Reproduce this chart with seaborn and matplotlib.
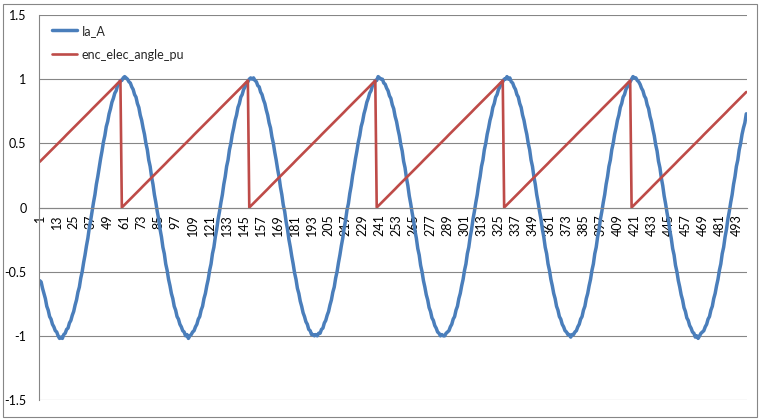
import pandas as pd
import seaborn as sns
import matplotlib.pyplot as plt
from matplotlib.patches import Rectangle

# Ia_A, one list per electrical period
ia_c0 = [-0.57, -0.58, -0.63, -0.67, -0.71, -0.77, -0.80, -0.85, -0.87, -0.91,
         -0.93, -0.96, -0.97, -1.00, -1.02, -1.01, -1.02, -0.99, -0.98, -0.95,
         -0.94, -0.90, -0.88, -0.84, -0.81, -0.76, -0.72, -0.66, -0.62, -0.55,
         -0.50, -0.43, -0.37, -0.30, -0.24, -0.16, -0.10, -0.03, 0.04, 0.10,
         0.18, 0.24, 0.31, 0.38, 0.44, 0.51, 0.56, 0.63, 0.67, 0.73,
         0.77, 0.82, 0.85, 0.89, 0.91, 0.95, 0.96, 0.99, 0.99, 1.01]
ia_c1 = [1.02, 1.01, 1.00, 0.98, 0.97, 0.94, 0.92, 0.88, 0.86, 0.81,
         0.78, 0.72, 0.68, 0.62, 0.57, 0.50, 0.45, 0.37, 0.32, 0.24,
         0.18, 0.10, 0.04, -0.03, -0.09, -0.17, -0.23, -0.31, -0.36, -0.44,
         -0.49, -0.56, -0.61, -0.67, -0.71, -0.77, -0.80, -0.85, -0.87, -0.91,
         -0.93, -0.96, -0.97, -1.00, -0.99, -1.02, -1.00, -0.99, -0.97, -0.96,
         -0.93, -0.91, -0.87, -0.85, -0.80, -0.77, -0.71, -0.67, -0.61, -0.56,
         -0.49, -0.44, -0.36, -0.31, -0.23, -0.17, -0.09, -0.03, 0.04, 0.10,
         0.18, 0.24, 0.32, 0.37, 0.45, 0.50, 0.57, 0.62, 0.68, 0.72,
         0.78, 0.81, 0.86, 0.88, 0.92, 0.94, 0.97, 0.98, 1.00, 1.01]
ia_c2 = [1.00, 1.01, 0.99, 0.98, 0.95, 0.94, 0.90, 0.88, 0.84, 0.81,
         0.76, 0.72, 0.66, 0.62, 0.55, 0.50, 0.43, 0.37, 0.30, 0.24,
         0.16, 0.10, 0.02, -0.03, -0.11, -0.17, -0.25, -0.31, -0.38, -0.44,
         -0.51, -0.56, -0.63, -0.67, -0.73, -0.77, -0.82, -0.85, -0.89, -0.91,
         -0.95, -0.96, -0.99, -0.99, -1.00, -0.99, -1.00, -0.98, -0.98, -0.95,
         -0.94, -0.90, -0.88, -0.84, -0.81, -0.76, -0.72, -0.66, -0.62, -0.55,
         -0.50, -0.43, -0.37, -0.30, -0.24, -0.16, -0.10, -0.02, 0.03, 0.11,
         0.17, 0.25, 0.31, 0.38, 0.44, 0.51, 0.56, 0.63, 0.67, 0.73,
         0.77, 0.82, 0.85, 0.89, 0.91, 0.95, 0.96, 0.99, 0.99, 1.02]
ia_c3 = [1.01, 1.00, 1.00, 0.97, 0.96, 0.93, 0.91, 0.87, 0.85, 0.80,
         0.77, 0.71, 0.67, 0.61, 0.56, 0.49, 0.44, 0.36, 0.31, 0.23,
         0.17, 0.09, 0.03, -0.04, -0.10, -0.18, -0.24, -0.32, -0.37, -0.45,
         -0.50, -0.57, -0.62, -0.68, -0.72, -0.78, -0.81, -0.86, -0.88, -0.92,
         -0.94, -0.97, -0.98, -1.00, -0.99, -1.00, -1.00, -0.98, -0.97, -0.96,
         -0.93, -0.91, -0.87, -0.85, -0.80, -0.77, -0.71, -0.67, -0.61, -0.56,
         -0.49, -0.44, -0.36, -0.31, -0.23, -0.17, -0.09, -0.03, 0.04, 0.10,
         0.18, 0.24, 0.32, 0.37, 0.45, 0.50, 0.57, 0.62, 0.68, 0.72,
         0.78, 0.81, 0.86, 0.88, 0.92, 0.94, 0.97, 0.98, 1.00, 1.00]
ia_c4 = [1.02, 1.00, 1.01, 0.98, 0.97, 0.94, 0.92, 0.88, 0.86, 0.81,
         0.78, 0.72, 0.68, 0.62, 0.57, 0.50, 0.45, 0.37, 0.32, 0.24,
         0.18, 0.10, 0.04, -0.03, -0.09, -0.17, -0.23, -0.31, -0.36, -0.44,
         -0.49, -0.56, -0.61, -0.67, -0.71, -0.77, -0.80, -0.85, -0.87, -0.91,
         -0.93, -0.96, -0.97, -0.99, -0.99, -1.01, -0.99, -0.99, -0.97, -0.96,
         -0.93, -0.91, -0.87, -0.85, -0.80, -0.77, -0.71, -0.67, -0.61, -0.56,
         -0.49, -0.44, -0.36, -0.31, -0.23, -0.17, -0.09, -0.03, 0.04, 0.10,
         0.18, 0.24, 0.32, 0.37, 0.45, 0.50, 0.57, 0.62, 0.68, 0.72,
         0.78, 0.81, 0.86, 0.88, 0.92, 0.94, 0.97, 0.98, 1.00, 1.02]
ia_c5 = [1.01, 1.01, 0.99, 0.98, 0.96, 0.93, 0.91, 0.87, 0.85, 0.80,
         0.77, 0.71, 0.67, 0.61, 0.56, 0.49, 0.44, 0.36, 0.31, 0.23,
         0.17, 0.09, 0.03, -0.04, -0.10, -0.18, -0.24, -0.32, -0.37, -0.45,
         -0.50, -0.57, -0.62, -0.68, -0.72, -0.78, -0.81, -0.86, -0.88, -0.92,
         -0.94, -0.97, -0.98, -1.01, -1.00, -1.02, -1.00, -0.98, -0.97, -0.96,
         -0.93, -0.91, -0.87, -0.85, -0.80, -0.77, -0.71, -0.67, -0.61, -0.56,
         -0.49, -0.44, -0.36, -0.31, -0.23, -0.17, -0.09, -0.03, 0.04, 0.10,
         0.18, 0.24, 0.32, 0.37, 0.45, 0.50, 0.57, 0.62, 0.66, 0.73]

# enc_elec_angle_pu, one list per period
ang_c0 = [0.356, 0.367, 0.378, 0.389, 0.400, 0.411, 0.422, 0.433, 0.444, 0.456,
          0.467, 0.478, 0.489, 0.500, 0.511, 0.522, 0.533, 0.544, 0.556, 0.567,
          0.578, 0.589, 0.600, 0.611, 0.622, 0.633, 0.644, 0.656, 0.667, 0.678,
          0.689, 0.700, 0.711, 0.722, 0.733, 0.744, 0.756, 0.767, 0.778, 0.789,
          0.800, 0.811, 0.822, 0.833, 0.844, 0.856, 0.867, 0.878, 0.889, 0.900,
          0.911, 0.922, 0.933, 0.944, 0.956, 0.967, 0.978, 0.989]
ang_c1 = [0.000, 0.011, 0.022, 0.033, 0.044, 0.056, 0.067, 0.078, 0.089, 0.100,
          0.111, 0.122, 0.133, 0.144, 0.156, 0.167, 0.178, 0.189, 0.200, 0.211,
          0.222, 0.233, 0.244, 0.256, 0.267, 0.278, 0.289, 0.300, 0.311, 0.322,
          0.333, 0.344, 0.356, 0.367, 0.378, 0.389, 0.400, 0.411, 0.422, 0.433,
          0.444, 0.456, 0.467, 0.478, 0.489, 0.500, 0.511, 0.522, 0.533, 0.544,
          0.556, 0.567, 0.578, 0.589, 0.600, 0.611, 0.622, 0.633, 0.644, 0.656,
          0.667, 0.678, 0.689, 0.700, 0.711, 0.722, 0.733, 0.744, 0.756, 0.767,
          0.778, 0.789, 0.800, 0.811, 0.822, 0.833, 0.844, 0.856, 0.867, 0.878,
          0.889, 0.900, 0.911, 0.922, 0.933, 0.944, 0.956, 0.967, 0.978, 0.989]
ang_c2 = [0.000, 0.011, 0.022, 0.033, 0.044, 0.056, 0.067, 0.078, 0.089, 0.100,
          0.111, 0.122, 0.133, 0.144, 0.156, 0.167, 0.178, 0.189, 0.200, 0.211,
          0.222, 0.233, 0.244, 0.256, 0.267, 0.278, 0.289, 0.300, 0.311, 0.322,
          0.333, 0.344, 0.356, 0.367, 0.378, 0.389, 0.400, 0.411, 0.422, 0.433,
          0.444, 0.456, 0.467, 0.478, 0.489, 0.500, 0.511, 0.522, 0.533, 0.544,
          0.556, 0.567, 0.578, 0.589, 0.600, 0.611, 0.622, 0.633, 0.644, 0.656,
          0.667, 0.678, 0.689, 0.700, 0.711, 0.722, 0.733, 0.744, 0.756, 0.767,
          0.778, 0.789, 0.800, 0.811, 0.822, 0.833, 0.844, 0.856, 0.867, 0.878,
          0.889, 0.900, 0.911, 0.922, 0.933, 0.944, 0.956, 0.967, 0.978, 0.989]
ang_c3 = [0.000, 0.011, 0.022, 0.033, 0.044, 0.056, 0.067, 0.078, 0.089, 0.100,
          0.111, 0.122, 0.133, 0.144, 0.156, 0.167, 0.178, 0.189, 0.200, 0.211,
          0.222, 0.233, 0.244, 0.256, 0.267, 0.278, 0.289, 0.300, 0.311, 0.322,
          0.333, 0.344, 0.356, 0.367, 0.378, 0.389, 0.400, 0.411, 0.422, 0.433,
          0.444, 0.456, 0.467, 0.478, 0.489, 0.500, 0.511, 0.522, 0.533, 0.544,
          0.556, 0.567, 0.578, 0.589, 0.600, 0.611, 0.622, 0.633, 0.644, 0.656,
          0.667, 0.678, 0.689, 0.700, 0.711, 0.722, 0.733, 0.744, 0.756, 0.767,
          0.778, 0.789, 0.800, 0.811, 0.822, 0.833, 0.844, 0.856, 0.867, 0.878,
          0.889, 0.900, 0.911, 0.922, 0.933, 0.944, 0.956, 0.967, 0.978, 0.989]
ang_c4 = [0.000, 0.011, 0.022, 0.033, 0.044, 0.056, 0.067, 0.078, 0.089, 0.100,
          0.111, 0.122, 0.133, 0.144, 0.156, 0.167, 0.178, 0.189, 0.200, 0.211,
          0.222, 0.233, 0.244, 0.256, 0.267, 0.278, 0.289, 0.300, 0.311, 0.322,
          0.333, 0.344, 0.356, 0.367, 0.378, 0.389, 0.400, 0.411, 0.422, 0.433,
          0.444, 0.456, 0.467, 0.478, 0.489, 0.500, 0.511, 0.522, 0.533, 0.544,
          0.556, 0.567, 0.578, 0.589, 0.600, 0.611, 0.622, 0.633, 0.644, 0.656,
          0.667, 0.678, 0.689, 0.700, 0.711, 0.722, 0.733, 0.744, 0.756, 0.767,
          0.778, 0.789, 0.800, 0.811, 0.822, 0.833, 0.844, 0.856, 0.867, 0.878,
          0.889, 0.900, 0.911, 0.922, 0.933, 0.944, 0.956, 0.967, 0.978, 0.989]
ang_c5 = [0.000, 0.011, 0.022, 0.033, 0.044, 0.056, 0.067, 0.078, 0.089, 0.100,
          0.111, 0.122, 0.133, 0.144, 0.156, 0.167, 0.178, 0.189, 0.200, 0.211,
          0.222, 0.233, 0.244, 0.256, 0.267, 0.278, 0.289, 0.300, 0.311, 0.322,
          0.333, 0.344, 0.356, 0.367, 0.378, 0.389, 0.400, 0.411, 0.422, 0.433,
          0.444, 0.456, 0.467, 0.478, 0.489, 0.500, 0.511, 0.522, 0.533, 0.544,
          0.556, 0.567, 0.578, 0.589, 0.600, 0.611, 0.622, 0.633, 0.644, 0.656,
          0.667, 0.678, 0.689, 0.700, 0.711, 0.722, 0.733, 0.744, 0.756, 0.767,
          0.778, 0.789, 0.800, 0.811, 0.822, 0.833, 0.844, 0.856, 0.867, 0.878,
          0.889, 0.900]

series_names = ["Ia_A", "enc_elec_angle_pu"]
colors = {"Ia_A": "#4A7EBB", "enc_elec_angle_pu": "#BE4B48"}
y_ticks = [-1.5, -1, -0.5, 0, 0.5, 1, 1.5]
y_labels = ["-1.5", "-1", "-0.5", "0", "0.5", "1", "1.5"]

ia_a = ia_c0 + ia_c1 + ia_c2 + ia_c3 + ia_c4 + ia_c5
enc_angle = ang_c0 + ang_c1 + ang_c2 + ang_c3 + ang_c4 + ang_c5
n = len(ia_a)
samples = list(range(1, n + 1))

df = pd.DataFrame({
    "sample": samples + samples,
    "value": ia_a + enc_angle,
    "series": [series_names[0]] * n + [series_names[1]] * len(enc_angle),
})

sns.set_style("white")
plt.rcParams["font.family"] = ["Lato", "DejaVu Sans"]

fig = plt.figure(figsize=(7.6, 4.2), dpi=100)
ax = fig.add_axes([39 / 760, 20 / 420, 708 / 760, 385 / 420])

sns.lineplot(data=df, x="sample", y="value", hue="series", hue_order=series_names,
             palette=colors, ax=ax, legend=False)
for line, name, lw in zip(ax.lines, series_names, [2.5, 1.9]):
    line.set_label(name)
    line.set_linewidth(lw)
    line.set_solid_joinstyle("round")

grey = "#868686"
ax.set_xlim(0.5, n + 0.5)
ax.set_ylim(-1.5, 1.5)
ax.set_yticks(y_ticks)
ax.set_yticklabels(y_labels)
ax.yaxis.grid(True, color=grey, linewidth=0.8)
ax.set_axisbelow(True)

# category axis sits at y = 0, labels every 12 samples
ax.set_xticks(samples[::12])
ax.set_xticklabels([str(s) for s in samples[::12]])
ax.set_xticks([s - 0.5 for s in samples] + [n + 0.5], minor=True)
ax.tick_params(axis="x", which="major", length=0, pad=5, labelsize=9,
               labelcolor="black", labelrotation=90)
ax.tick_params(axis="x", which="minor", length=3, width=0.6, color=grey, direction="out")
ax.tick_params(axis="y", length=3, width=0.8, color=grey, labelsize=9, pad=6,
               labelcolor="black")

ax.spines["bottom"].set_position(("data", 0))
for side in ["top", "right"]:
    ax.spines[side].set_visible(False)
for side in ["bottom", "left"]:
    ax.spines[side].set_color(grey)
    ax.spines[side].set_linewidth(0.8)

ax.set_xlabel("")
ax.set_ylabel("")

ax.legend(loc="upper left", bbox_to_anchor=(0.018, 0.975), frameon=False, fontsize=9,
          handlelength=2.0, handletextpad=0.4, labelspacing=0.95, borderpad=0,
          borderaxespad=0)

fig.patches.append(Rectangle((3.5 / 760, 3.5 / 420), 753 / 760, 413 / 420,
                             transform=fig.transFigure, fill=False,
                             edgecolor=grey, linewidth=0.8))

plt.savefig("out.png", dpi=100, facecolor="white")
